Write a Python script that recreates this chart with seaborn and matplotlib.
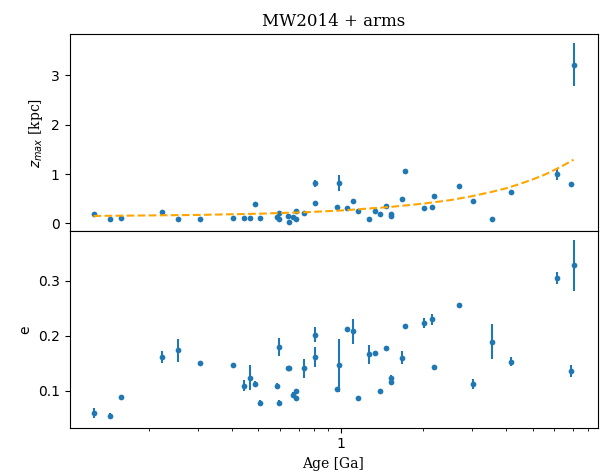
import matplotlib
matplotlib.use("Agg")
import matplotlib.pyplot as plt
import pandas as pd
import seaborn as sns
from matplotlib.ticker import StrMethodFormatter, NullFormatter

# Stellar sample: age, maximum height above the plane, eccentricity (with errors)
age = [0.125, 0.144, 0.158, 0.223, 0.255, 0.307, 0.404, 0.442, 0.464, 0.486,
       0.507, 0.583, 0.596, 0.596, 0.639, 0.644, 0.668, 0.684, 0.685, 0.732,
       0.804, 0.804, 0.965, 0.987, 1.055, 1.105, 1.157, 1.267, 1.329, 1.390,
       1.456, 1.521, 1.521, 1.673, 1.708, 2.004, 2.148, 2.194, 2.701, 3.029,
       3.554, 4.170, 6.153, 6.903, 7.055]
zmax = [0.184, 0.088, 0.114, 0.237, 0.088, 0.094, 0.108, 0.102, 0.102, 0.388,
        0.114, 0.123, 0.204, 0.088, 0.155, 0.033, 0.135, 0.082, 0.257, 0.217,
        0.817, 0.409, 0.333, 0.823, 0.313, 0.449, 0.257, 0.082, 0.257, 0.196,
        0.347, 0.190, 0.149, 0.490, 1.068, 0.306, 0.339, 0.564, 0.762, 0.449,
        0.082, 0.633, 1.001, 0.797, 3.220]
zmax_err = [0.02, 0.02, 0.02, 0.02, 0.02, 0.02, 0.02, 0.02, 0.02, 0.02,
            0.02, 0.02, 0.02, 0.02, 0.02, 0.013, 0.02, 0.02, 0.02, 0.02,
            0.07, 0.02, 0.02, 0.16, 0.02, 0.02, 0.02, 0.02, 0.02, 0.02,
            0.02, 0.02, 0.02, 0.02, 0.04, 0.02, 0.02, 0.02, 0.04, 0.02,
            0.02, 0.02, 0.115, 0.02, 0.44]
ecc = [0.059, 0.054, 0.088, 0.161, 0.174, 0.150, 0.147, 0.109, 0.124, 0.112,
       0.078, 0.109, 0.180, 0.078, 0.142, 0.142, 0.093, 0.100, 0.087, 0.141,
       0.202, 0.161, 0.103, 0.146, 0.212, 0.208, 0.086, 0.166, 0.168, 0.100,
       0.177, 0.123, 0.116, 0.160, 0.218, 0.224, 0.230, 0.143, 0.256, 0.112,
       0.189, 0.153, 0.305, 0.136, 0.328]
ecc_err = [0.009, 0.005, 0.004, 0.011, 0.021, 0.003, 0.003, 0.010, 0.023, 0.005,
           0.005, 0.005, 0.016, 0.005, 0.003, 0.003, 0.004, 0.004, 0.004, 0.017,
           0.014, 0.018, 0.004, 0.049, 0.003, 0.023, 0.005, 0.017, 0.003, 0.003,
           0.003, 0.006, 0.006, 0.012, 0.003, 0.009, 0.010, 0.003, 0.003, 0.009,
           0.032, 0.0085, 0.011, 0.011, 0.046]

# Age-zmax relation of the model
fit_age = [0.125, 0.2, 0.3, 0.5, 0.75, 1.0, 1.5, 2.0, 2.5, 3.0, 3.5, 4.0,
           4.5, 5.0, 5.5, 6.0, 6.5, 7.055]
fit_zmax = [0.15, 0.16, 0.17, 0.195, 0.226, 0.26, 0.33, 0.40, 0.47, 0.55,
            0.63, 0.71, 0.80, 0.89, 0.98, 1.08, 1.18, 1.29]

stars = pd.DataFrame({"age": age, "zmax": zmax, "zmax_err": zmax_err,
                      "ecc": ecc, "ecc_err": ecc_err})
model = pd.DataFrame({"age": fit_age, "zmax": fit_zmax})

blue = "#1f77b4"
fig = plt.figure(figsize=(6.04, 4.72), dpi=100)
left, right = 69.5 / 604, 597.5 / 604
ax1 = fig.add_axes([left, 1 - 231.3 / 472, right - left, (231.3 - 34) / 472])
ax2 = fig.add_axes([left, 1 - 427.7 / 472, right - left, (427.7 - 231.3) / 472],
                   sharex=ax1)

for ax in (ax1, ax2):
    ax.set_xscale("log")

ax1.errorbar(stars["age"], stars["zmax"], yerr=stars["zmax_err"], fmt="none",
             ecolor=blue, elinewidth=1.5, zorder=2)
sns.scatterplot(data=stars, x="age", y="zmax", ax=ax1, color=blue, s=17,
                linewidth=0, zorder=3, legend=False)
sns.lineplot(data=model, x="age", y="zmax", ax=ax1, color="orange",
             linestyle="--", linewidth=1.5, zorder=4)

ax2.errorbar(stars["age"], stars["ecc"], yerr=stars["ecc_err"], fmt="none",
             ecolor=blue, elinewidth=1.5, zorder=2)
sns.scatterplot(data=stars, x="age", y="ecc", ax=ax2, color=blue, s=17,
                linewidth=0, zorder=3, legend=False)

ax1.set_title("MW2014 + arms", fontfamily="serif", fontsize=12)
ax1.set_ylabel("$z_{max}$ [kpc]", fontfamily="serif")
ax1.set_xlabel("")
ax1.set_yticks([0, 1, 2, 3])
ax1.tick_params(axis="x", which="both", bottom=False, labelbottom=False)

ax2.set_ylabel("e")
ax2.set_xlabel("Age [Ga]", fontfamily="serif")
ax2.set_yticks([0.1, 0.2, 0.3])
ax2.xaxis.set_major_formatter(StrMethodFormatter("{x:g}"))
ax2.xaxis.set_minor_formatter(NullFormatter())

fig.savefig("out.png", dpi=100)
